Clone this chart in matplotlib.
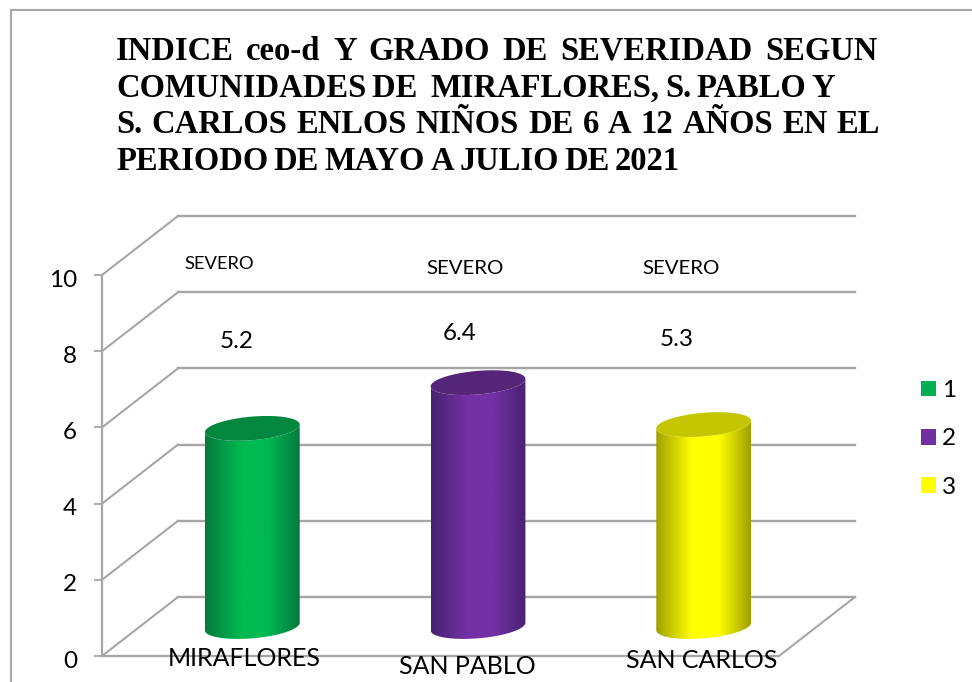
import re
import numpy as np
import matplotlib
matplotlib.use('Agg')
import matplotlib.pyplot as plt
from matplotlib.colors import LinearSegmentedColormap
from matplotlib.patches import Patch, Polygon
from matplotlib.transforms import ScaledTranslation, offset_copy

# datos
comunidades = ['MIRAFLORES', 'SAN PABLO', 'SAN CARLOS']
indice = [5.2, 6.4, 5.3]
grado = ['SEVERO', 'SEVERO', 'SEVERO']
leyenda = ['1', '2', '3']
y_ticks = [0, 2, 4, 6, 8, 10]
titulo = [
    'INDICE ceo-d Y GRADO DE SEVERIDAD SEGUN',
    'COMUNIDADES DE  MIRAFLORES, S. PABLO Y',
    'S. CARLOS ENLOS NIÑOS DE 6 A 12 AÑOS EN EL',
    'PERIODO DE MAYO A JULIO DE 2021',
]

W, H = 972, 682
GRIS = '#a6a6a6'
claro = ['#00b950', '#7431a6', '#ffff00']
oscuro = ['#047a3e', '#47226f', '#a0a000']
tapa = ['#03873f', '#552579', '#c6c600']
DX, DY = 76, 59  # profundidad del piso en pixeles


def px(x, y):
    return x / W, 1 - y / H


fig = plt.figure(figsize=(W / 100, H / 100), dpi=100)
ax = fig.add_axes([102 / W, 1 - 656 / H, 677 / W, 381 / H])
ax.patch.set_visible(False)
ax.set_xlim(-0.5, 2.5)
ax.set_ylim(0, 10)

# marco del grafico (abierto a la derecha y abajo)
fig.add_artist(plt.Line2D([11 / W, 11 / W, 1], [0, 1 - 10 / H, 1 - 10 / H], transform=fig.transFigure,
                          color=GRIS, lw=1.5))

atras = offset_copy(ax.transData, fig=fig, x=DX, y=DY, units='dots')
medio = offset_copy(ax.transData, fig=fig, x=DX / 2 - 0.5, y=DY / 2, units='dots')

# paredes: lineas de fondo y diagonales
for v in y_ticks:
    ax.plot([-0.5, 2.5], [v, v], transform=atras, color=GRIS, lw=1.7, clip_on=False, zorder=1)
    xa, ya = atras.transform((-0.5, v))
    xb, yb = ax.transData.transform((-0.5, v))
    ax.plot([xa, xb], [ya, yb], transform=None, color=GRIS, lw=1.5, clip_on=False, zorder=1)
xa, ya = atras.transform((2.5, 0))
xb, yb = ax.transData.transform((2.5, 0))
ax.plot([xa, xb], [ya, yb], transform=None, color=GRIS, lw=1.5, clip_on=False, zorder=1)

# cilindros
RX, RY, INC = 0.21, 0.31, 0.1
t = np.linspace(0, 2 * np.pi, 121)
for i, v in enumerate(indice):
    ex = i + RX * np.cos(t)
    ey = RY * np.sin(t) + INC * np.cos(t)
    abajo = t[60:]
    xs = np.concatenate([i + RX * np.cos(abajo), i + RX * np.cos(abajo[::-1])])
    ys = np.concatenate([RY * np.sin(abajo) + INC * np.cos(abajo),
                         v + RY * np.sin(abajo[::-1]) + INC * np.cos(abajo[::-1])])
    cuerpo = Polygon(np.column_stack([xs, ys]), closed=True, transform=medio, fc='none', ec='none')
    ax.add_patch(cuerpo)
    cmap = LinearSegmentedColormap.from_list('c', [(0, oscuro[i]), (0.38, claro[i]), (0.66, claro[i]),
                                                   (1, oscuro[i])])
    grad = np.linspace(0, 1, 256).reshape(1, -1)
    img = ax.imshow(grad, cmap=cmap, aspect='auto', transform=medio, zorder=3,
                    extent=(i - RX, i + RX, -1, v + 1))
    img.set_clip_path(cuerpo)
    ax.add_patch(Polygon(np.column_stack([ex, v + ey]), closed=True, transform=medio,
                         fc=tapa[i], ec='none', zorder=4))
ax.set_xlim(-0.5, 2.5)
ax.set_ylim(0, 10)

# ejes
for lado in ['top', 'right']:
    ax.spines[lado].set_visible(False)
for lado in ['left', 'bottom']:
    ax.spines[lado].set_color(GRIS)
    ax.spines[lado].set_linewidth(1.6)
ax.set_xticks([])
ax.set_yticks(y_ticks)
ax.tick_params(axis='y', length=6, width=1.3, color=GRIS, pad=12, labelsize=17.5)
bajar = ScaledTranslation(0, -3 / 100, fig.dpi_scale_trans)
for lab in ax.get_yticklabels():
    lab.set_family('Lato')
    lab.set_transform(lab.get_transform() + bajar)

# titulo justificado palabra por palabra
fig.canvas.draw()
rend = fig.canvas.get_renderer()
lineas = [(116, 877, 60), (116, 835, 97), (116, 880, 133), (116, 680, 170)]
for texto, (x0, x1, yy) in zip(titulo, lineas):
    palabras = re.split(r' (?=\S)', texto)
    piezas = [fig.text(*px(x0, yy), p, family='Liberation Serif', weight='bold', fontsize=23.5,
                       ha='left', va='baseline', color='black') for p in palabras]
    anchos = [p.get_window_extent(rend).width for p in piezas]
    hueco = (x1 - x0 - sum(anchos)) / max(len(piezas) - 1, 1)
    x = x0
    for p, a in zip(piezas, anchos):
        p.set_x(x / W)
        x += a + hueco

# rotulos sobre las barras
for v, g, xg, yg, xv, yv, fs in zip(indice, grado,
                                    [219, 465, 681], [264, 268, 269],
                                    [237, 460, 677], [342, 333, 340], [13.2, 14.7, 14.7]):
    fig.text(*px(xg, yg), g, family='Lato', fontsize=fs, ha='center', va='center')
    fig.text(*px(xv, yv), f'{v}', family='Lato', fontsize=17.5, ha='center', va='center')
for s, xc, yc in zip(comunidades, [244, 467, 702], [658, 666, 661]):
    fig.text(*px(xc, yc), s, family='Lato', fontsize=18, ha='center', va='center', zorder=10)

# leyenda
manijas = [Patch(color=c, lw=0) for c in ['#00b050', '#7030a0', '#ffff00']]
ax.legend(manijas, leyenda, loc='upper left', bbox_to_anchor=px(921, 380), bbox_transform=fig.transFigure,
          frameon=False, handlelength=0.62, handleheight=0.62, handletextpad=0.25, labelspacing=1.13,
          borderpad=0, borderaxespad=0, prop={'family': 'Lato', 'size': 17.5})

fig.savefig('out.png', dpi=100)
